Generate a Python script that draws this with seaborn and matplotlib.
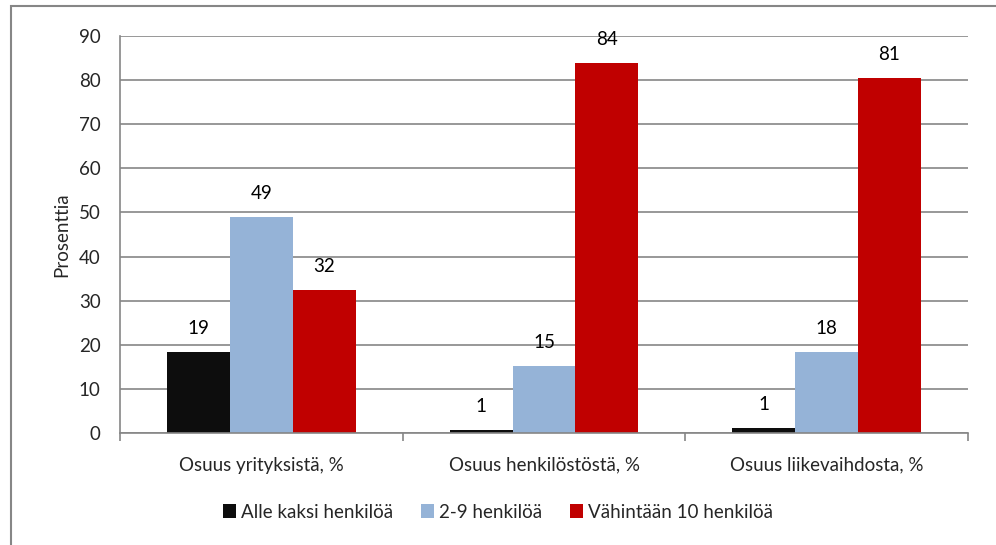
import matplotlib
matplotlib.use("Agg")
import matplotlib.pyplot as plt
import seaborn as sns
import pandas as pd
from matplotlib.patches import Rectangle, Patch

categories = ["Osuus yrityksistä, %", "Osuus henkilöstöstä, %", "Osuus liikevaihdosta, %"]
series = ["Alle kaksi henkilöä", "2-9 henkilöä", "Vähintään 10 henkilöä"]
alle_kaksi = [18.4, 0.7, 1.1]
kaksi_yhdeksan = [49.0, 15.2, 18.4]
vahintaan_10 = [32.4, 83.9, 80.5]
labels_alle = ["19", "1", "1"]
labels_kaksi = ["49", "15", "18"]
labels_vah = ["32", "84", "81"]
yticks = [0, 10, 20, 30, 40, 50, 60, 70, 80, 90]
colors = ["#0D0D0D", "#95B3D7", "#C00000"]

sns.set_theme(style="white")
plt.rcParams['font.family'] = ['Lato', 'DejaVu Sans']
FS = 13.5

df = pd.DataFrame({
    "cat": categories * 3,
    "series": [series[0]] * 3 + [series[1]] * 3 + [series[2]] * 3,
    "val": alle_kaksi + kaksi_yhdeksan + vahintaan_10,
})

fig = plt.figure(figsize=(9.96, 5.45), dpi=100)
ax = fig.add_axes([120 / 996, (545 - 433) / 545, 848 / 996, 397 / 545])

sns.barplot(data=df, x="cat", y="val", hue="series", order=categories,
            hue_order=series, palette=colors, width=0.667, saturation=1,
            ax=ax, legend=False, linewidth=0)

lab_sets = [labels_alle, labels_kaksi, labels_vah]
for cont, labs in zip(ax.containers, lab_sets):
    ax.bar_label(cont, labels=labs, padding=11, fontsize=FS, color="#000000")

ax.set_ylim(0, 90)
ax.set_xlim(-0.5, 2.5)
ax.set_yticks(yticks)
ax.set_yticklabels([str(t) for t in yticks], fontsize=FS)
ax.yaxis.grid(True, color="#868686", linewidth=1.2)
ax.set_axisbelow(True)
ax.set_xlabel("")
ax.set_ylabel("Prosenttia", fontsize=FS, labelpad=6)

ax.set_xticks([0, 1, 2])
ax.set_xticklabels(categories, fontsize=FS)
ax.tick_params(axis="x", length=0, pad=17)
ax.set_xticks([-0.5, 0.5, 1.5, 2.5], minor=True)
ax.tick_params(axis="x", which="minor", length=6, width=1.2, color="#868686", direction="out")
ax.tick_params(axis="y", length=6, width=1.2, color="#868686", direction="out", pad=8)
ax.xaxis.set_tick_params(bottom=True, which="minor")

for s in ["top", "right"]:
    ax.spines[s].set_visible(False)
for s in ["left", "bottom"]:
    ax.spines[s].set_color("#868686")
    ax.spines[s].set_linewidth(1.2)

handles = [Patch(facecolor=c, edgecolor="none") for c in colors]
fig.legend(handles, series, loc="center", bbox_to_anchor=(0.5, (545 - 512) / 545),
           ncol=3, frameon=False, fontsize=FS, handlelength=0.7, handleheight=0.7,
           handletextpad=0.25, columnspacing=1.5)

fig.patches.append(Rectangle((11 / 996, -0.1), 1.2, (545 - 6) / 545 + 0.1,
                             transform=fig.transFigure, fill=False,
                             edgecolor="#868686", linewidth=1.5, zorder=0))

fig.savefig("out.png", dpi=100)
